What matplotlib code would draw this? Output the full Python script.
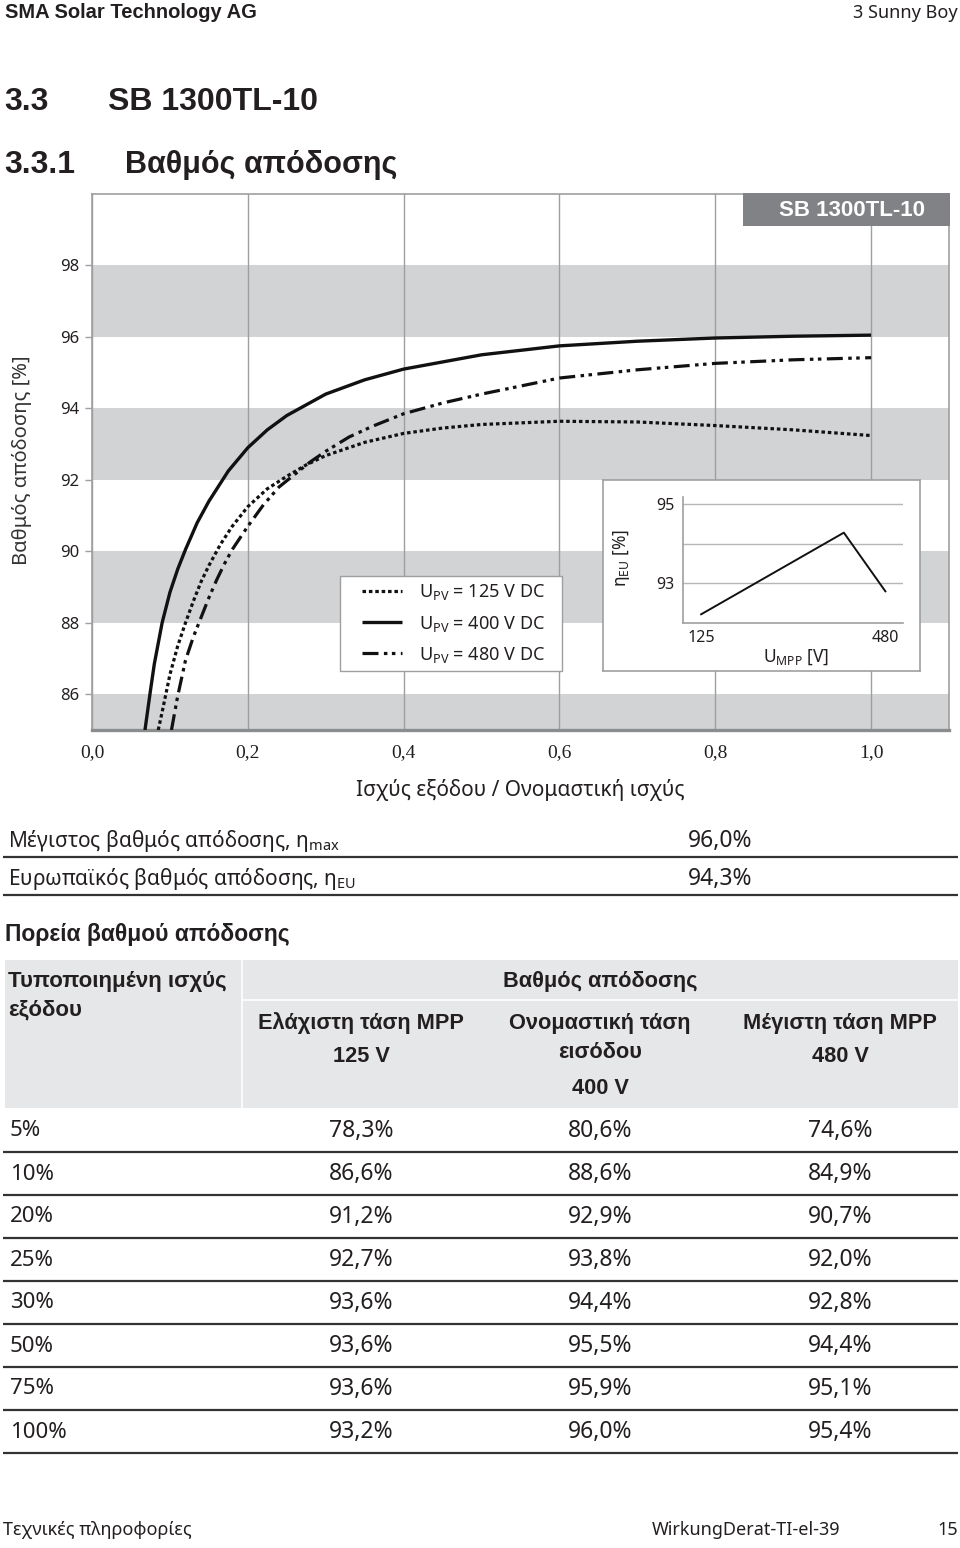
import matplotlib
matplotlib.use('Agg')
import matplotlib.pyplot as plt
from matplotlib.lines import Line2D
from matplotlib.patches import Rectangle

plt.rcParams['font.family'] = ['Noto Sans', 'DejaVu Sans']
plt.rcParams['mathtext.fontset'] = 'custom'
plt.rcParams['mathtext.rm'] = 'Noto Sans'
BOLD = ['Liberation Sans', 'DejaVu Sans']

# ---------------- data ----------------
# efficiency curves (x = P/Pnom, y = efficiency %)
x_125 = [0.085, 0.09, 0.10, 0.11, 0.12, 0.13, 0.14, 0.15, 0.165, 0.18, 0.20, 0.225, 0.25,
         0.275, 0.30, 0.35, 0.40, 0.45, 0.50, 0.60, 0.70, 0.80, 0.90, 1.00]
y_125 = [85.0, 85.5, 86.55, 87.35, 88.0, 88.6, 89.15, 89.6, 90.2, 90.7, 91.25, 91.75, 92.1,
         92.42, 92.68, 93.05, 93.3, 93.45, 93.55, 93.64, 93.62, 93.52, 93.4, 93.24]
x_400 = [0.068, 0.075, 0.08, 0.09, 0.10, 0.11, 0.12, 0.135, 0.15, 0.175, 0.20, 0.225, 0.25,
         0.30, 0.35, 0.40, 0.50, 0.60, 0.70, 0.80, 0.90, 1.00]
y_400 = [85.0, 86.1, 86.85, 88.0, 88.85, 89.5, 90.05, 90.8, 91.4, 92.25, 92.9, 93.4, 93.8,
         94.4, 94.8, 95.1, 95.5, 95.75, 95.88, 95.97, 96.02, 96.05]
x_480 = [0.102, 0.11, 0.12, 0.13, 0.14, 0.15, 0.16, 0.17, 0.18, 0.20, 0.22, 0.24, 0.26, 0.28,
         0.30, 0.33, 0.36, 0.40, 0.45, 0.50, 0.60, 0.70, 0.80, 0.90, 1.00]
y_480 = [85.0, 85.95, 86.95, 87.6, 88.15, 88.7, 89.2, 89.65, 90.05, 90.7, 91.3, 91.8, 92.15, 92.5,
         92.8, 93.2, 93.5, 93.85, 94.15, 94.4, 94.85, 95.08, 95.26, 95.36, 95.42]
legend_labels = [r"U$_{\mathregular{PV}}$ = 125 V DC",
                 r"U$_{\mathregular{PV}}$ = 400 V DC",
                 r"U$_{\mathregular{PV}}$ = 480 V DC"]
x_ticks = [0.0, 0.2, 0.4, 0.6, 0.8, 1.0]
x_tick_labels = ["0,0", "0,2", "0,4", "0,6", "0,8", "1,0"]
y_ticks = [86, 88, 90, 92, 94, 96, 98]
bands = [(85, 86), (88, 90), (92, 94), (96, 98)]

# inset: European efficiency vs MPP voltage
inset_v = [125, 400, 480]
inset_eta = [92.22, 94.28, 92.8]
inset_xticks = [125, 480]
inset_yticks = [93, 94, 95]
inset_ylabels = ["93", "", "95"]

# summary values
summary_labels = [r"Μέγιστος βαθμός απόδοσης, η$_{\mathregular{max}}$",
                  r"Ευρωπαϊκός βαθμός απόδοσης, η$_{\mathregular{EU}}$"]
summary_values = ["96,0%", "94,3%"]

# table
power_levels = ["5%", "10%", "20%", "25%", "30%", "50%", "75%", "100%"]
eff_125V = [78.3, 86.6, 91.2, 92.7, 93.6, 93.6, 93.6, 93.2]
eff_400V = [80.6, 88.6, 92.9, 93.8, 94.4, 95.5, 95.9, 96.0]
eff_480V = [74.6, 84.9, 90.7, 92.0, 92.8, 94.4, 95.1, 95.4]

# ---------------- layout helpers ----------------
W, H = 960, 1548
fig = plt.figure(figsize=(9.6, 15.48), dpi=100)
TXT = '#231f20'


def fx(x):
    return x / W


def fy(y):
    return 1 - y / H


def text(x, y, s, **kw):
    kw.setdefault('color', TXT)
    kw.setdefault('va', 'center')
    return fig.text(fx(x), fy(y), s, **kw)


def btext(x, y, s, **kw):
    return text(x, y, s, family=BOLD, fontweight='bold', **kw)


def hline(x0, x1, y, color='#333333', lw=1.5):
    fig.add_artist(Line2D([fx(x0), fx(x1)], [fy(y), fy(y)], transform=fig.transFigure,
                          color=color, lw=lw, solid_capstyle='butt'))


def vline(x, y0, y1, color='white', lw=1.5):
    fig.add_artist(Line2D([fx(x), fx(x)], [fy(y0), fy(y1)], transform=fig.transFigure,
                          color=color, lw=lw, solid_capstyle='butt'))


def rect(x0, y0, x1, y1, color):
    fig.add_artist(Rectangle((fx(x0), fy(y1)), fx(x1) - fx(x0), fy(y0) - fy(y1),
                             transform=fig.transFigure, facecolor=color, edgecolor='none'))


def axes_px(l, t, r, b):
    return fig.add_axes([fx(l), fy(b), (r - l) / W, (b - t) / H])


# ---------------- page header ----------------
btext(5, 13, "SMA Solar Technology AG", fontsize=14.5, ha='left')
text(958, 13, "3 Sunny Boy", fontsize=13, ha='right')
btext(4, 102, "3.3", fontsize=23, ha='left')
btext(108, 102, "SB 1300TL-10", fontsize=23, ha='left')
btext(4, 165, "3.3.1", fontsize=23, ha='left')
btext(125, 165, "Βαθμός απόδοσης", fontsize=22, ha='left')

# ---------------- main chart ----------------
GRID = '#9d9fa2'
ax = axes_px(92, 194, 949, 730)
ax.set_xlim(0, 1.1)
ax.set_ylim(85, 100)
for lo, hi in bands:
    ax.axhspan(lo, hi, color='#d1d3d4', lw=0, zorder=0)
ax.set_xticks(x_ticks)
ax.set_xticklabels(x_tick_labels, family=['Liberation Serif', 'DejaVu Serif'], fontsize=14)
ax.set_yticks(y_ticks)
ax.tick_params(axis='x', length=0, pad=10, colors=TXT)
ax.tick_params(axis='y', length=5, width=1, color=GRID, pad=4, labelsize=12, labelcolor=TXT)
ax.grid(axis='x', color=GRID, lw=1.0, zorder=1)
ax.set_axisbelow(True)
for s in ['left', 'top', 'right']:
    ax.spines[s].set_color(GRID)
    ax.spines[s].set_linewidth(1.2)
ax.spines['bottom'].set_color('#8a8c8e')
ax.spines['bottom'].set_linewidth(2.4)

l125, = ax.plot(x_125, y_125, color='#111111', lw=2.3, ls=(0, (1.1, 0.9)),
                dash_capstyle='butt', zorder=3)
l400, = ax.plot(x_400, y_400, color='#111111', lw=2.4, solid_capstyle='butt', zorder=3)
l480, = ax.plot(x_480, y_480, color='#111111', lw=2.3, ls=(0, (5, 1.7, 1.1, 1.4, 1.1, 1.7)),
                dash_capstyle='butt', zorder=3)

# legend frame + legend contents
ax.add_patch(Rectangle((fx(340), fy(671)), (562 - 340) / W, (671 - 576) / H,
                       transform=fig.transFigure, facecolor='white', edgecolor=GRID,
                       lw=1.0, zorder=4))
leg = ax.legend([l125, l400, l480], legend_labels, loc='center left',
                bbox_to_anchor=(fx(362), fy(623.5)), bbox_transform=fig.transFigure,
                frameon=False, fontsize=13, handlelength=2.2, handletextpad=0.95,
                labelspacing=0.62, borderpad=0, borderaxespad=0)
leg.set_zorder(5)
for t in leg.get_texts():
    t.set_color(TXT)

text(520, 790, "Ισχύς εξόδου / Ονομαστική ισχύς", fontsize=15, ha='center')
text(22, 460, "Βαθμός απόδοσης [%]", fontsize=14.5, ha='center', rotation=90, color='#333333')

# title box
rect(743, 193, 950, 226, '#808285')
btext(852, 210, "SB 1300TL-10", fontsize=16, ha='center', color='white')

# ---------------- inset ----------------
axb = axes_px(603, 480, 920, 671)
axb.set_xticks([])
axb.set_yticks([])
axb.set_facecolor('white')
for s in axb.spines.values():
    s.set_color(GRID)
    s.set_linewidth(1.2)

axi = axes_px(683, 497, 903, 623)
axi.set_facecolor('none')
axi.set_xlim(90, 514)
axi.set_ylim(92, 95.18)
axi.set_xticks(inset_xticks)
axi.set_yticks(inset_yticks)
axi.set_yticklabels(inset_ylabels)
axi.tick_params(length=0, labelsize=11.5, labelcolor=TXT)
axi.tick_params(axis='x', pad=5)
axi.tick_params(axis='y', pad=6)
axi.grid(axis='y', color='#b5b7b9', lw=1.0)
axi.spines['top'].set_visible(False)
axi.spines['right'].set_visible(False)
for s in ['left', 'bottom']:
    axi.spines[s].set_color(GRID)
    axi.spines[s].set_linewidth(1.2)
axi.plot(inset_v, inset_eta, color='#111111', lw=1.4)
text(622, 558, r"η$_{\mathregular{EU}}$ [%]", fontsize=12.5, ha='center', rotation=90)
text(796, 657, r"U$_{\mathregular{MPP}}$ [V]", fontsize=12.5, ha='center')

# ---------------- summary ----------------
for i, (lab, val) in enumerate(zip(summary_labels, summary_values)):
    yc = 841 + i * 38
    text(8, yc, lab, fontsize=15, ha='left')
    text(688, yc, val, fontsize=16.5, ha='left')
    hline(3, 958, yc + 16, color='#333333', lw=1.6)

btext(5, 934, "Πορεία βαθμού απόδοσης", fontsize=16.5, ha='left')

# ---------------- table ----------------
rect(5, 960, 958, 1108, '#e6e7e8')
vline(242, 960, 1108, color='white', lw=1.2)
hline(242, 958, 1000, color='white', lw=1.2)
btext(8, 982, "Τυποποιημένη ισχύς", fontsize=16, ha='left')
btext(8, 1010, "εξόδου", fontsize=16, ha='left')
btext(600, 982, "Βαθμός απόδοσης", fontsize=15.7, ha='center')
col_x = [361, 600, 840]
btext(col_x[0], 1023, "Ελάχιστη τάση MPP", fontsize=15.7, ha='center')
btext(col_x[0], 1057, "125 V", fontsize=15.7, ha='center')
btext(col_x[1], 1023, "Ονομαστική τάση", fontsize=15.7, ha='center')
btext(col_x[1], 1053, "εισόδου", fontsize=15.7, ha='center')
btext(col_x[1], 1088, "400 V", fontsize=15.7, ha='center')
btext(col_x[2], 1023, "Μέγιστη τάση MPP", fontsize=15.7, ha='center')
btext(col_x[2], 1057, "480 V", fontsize=15.7, ha='center')


def fmt(v):
    return f"{v:.1f}".replace('.', ',') + "%"


for i, p in enumerate(power_levels):
    yc = 1131 + i * 43
    text(10, yc, p, fontsize=16, ha='left')
    for cx, series in zip(col_x, [eff_125V, eff_400V, eff_480V]):
        text(cx, yc, fmt(series[i]), fontsize=16.5, ha='center')
    hline(3, 958, yc + 21, color='#333333', lw=1.6)

# ---------------- footer ----------------
text(3, 1530, "Τεχνικές πληροφορίες", fontsize=13, ha='left')
text(652, 1530, "WirkungDerat-TI-el-39", fontsize=13, ha='left')
text(958, 1530, "15", fontsize=13, ha='right')

fig.savefig('out.png', dpi=100)
